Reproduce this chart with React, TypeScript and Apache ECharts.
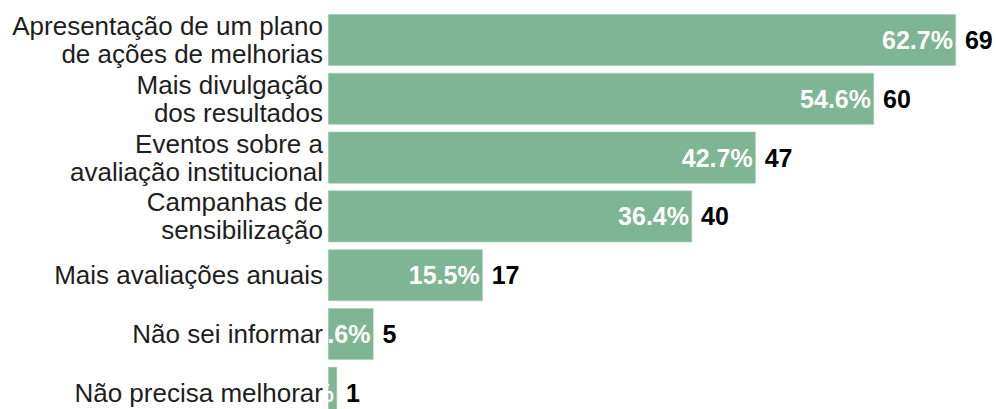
import React, { useEffect, useRef } from "react";
import * as echarts from "echarts";

const categories = [
  "Apresentação de um plano\nde ações de melhorias",
  "Mais divulgação\ndos resultados",
  "Eventos sobre a\navaliação institucional",
  "Campanhas de\nsensibilização",
  "Mais avaliações anuais",
  "Não sei informar",
  "Não precisa melhorar",
];
const counts = [69, 60, 47, 40, 17, 5, 1];
const percentLabels = ["62.7%", "54.6%", "42.7%", "36.4%", "15.5%", "4.6%", "0.9%"];

const FONT = "'Liberation Sans', Arial, sans-serif";
const BAR_COLOR = "#7eb594";
const GAP = 0.12;

export default function App() {
  const ref = useRef<HTMLDivElement>(null);
  useEffect(() => {
    if (!ref.current) return;
    const chart = echarts.init(ref.current, null, { renderer: "svg" });
    chart.setOption({
      animation: false,
      grid: { left: 328, right: 31, top: 10.6, bottom: 7.8, containLabel: false },
      xAxis: {
        type: "value",
        min: 0,
        max: 70,
        show: false,
      },
      yAxis: {
        type: "category",
        data: categories,
        inverse: true,
        z: 10,
        axisLine: { show: false },
        axisTick: { show: false },
        axisLabel: {
          color: "#1e1e1e",
          fontFamily: FONT,
          fontSize: 26,
          lineHeight: 28,
          margin: 5,
          align: "right",
        },
      },
      series: [
        {
          type: "bar",
          data: counts,
          barCategoryGap: GAP * 100 + "%",
          itemStyle: { color: BAR_COLOR, borderColor: "#a3cbb3", borderWidth: 0.6 },
          label: {
            show: true,
            position: "right",
            distance: 9,
            formatter: "{c}",
            color: "#000",
            fontFamily: FONT,
            fontWeight: "bold",
            fontSize: 25,
          },
        },
        {
          type: "custom",
          z: 5,
          data: counts.map((v, i) => [v, i]),
          encode: { x: 0, y: 1 },
          renderItem: (params: any, api: any) => {
            const v = api.value(0);
            const c = api.value(1);
            const end = api.coord([v, c]);
            const start = api.coord([0, c]);
            const h = api.size([0, 1])[1] * (1 - GAP);
            return {
              type: "group",
              children: [
                {
                  type: "text",
                  x: end[0] - 3,
                  y: end[1],
                  style: {
                    text: percentLabels[params.dataIndex],
                    fill: "#fff",
                    font: `bold 25px ${FONT}`,
                    align: "right",
                    verticalAlign: "middle",
                  },
                },
                {
                  type: "rect",
                  shape: { x: start[0] - 120, y: end[1] - h / 2, width: 120, height: h },
                  style: { fill: "#fff" },
                },
              ],
            };
          },
        },
      ],
    });
    return () => chart.dispose();
  }, []);
  return (
    <div
      ref={ref}
      style={{ position: "absolute", left: 0, top: 0, width: 996, height: 430 }}
    />
  );
}
